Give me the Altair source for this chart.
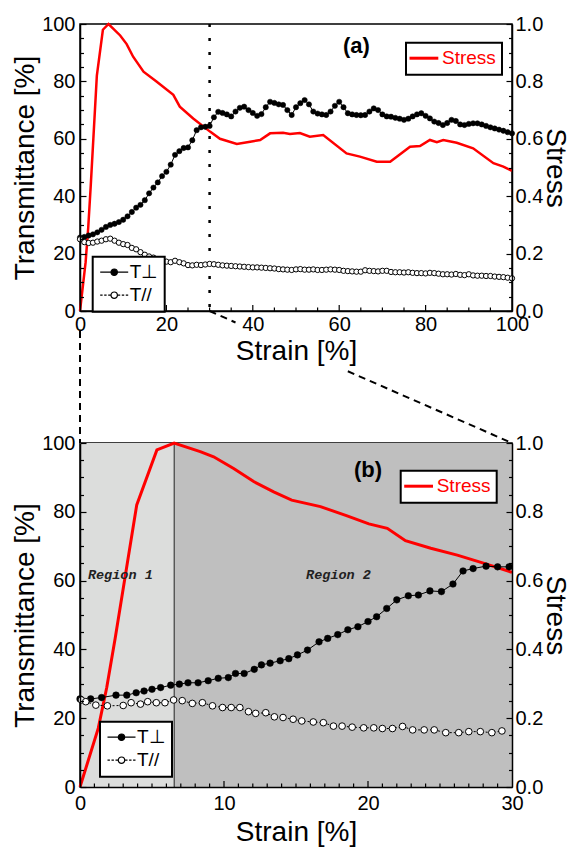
import altair as alt
import pandas as pd

FONT = "Liberation Sans"

# ---------------- panel (a): 0-100 % strain ----------------
strain_a = list(range(101))
t_perp_a = [25.6, 25.8, 26.3, 26.7, 27.4, 28.3, 29.3, 30.0, 30.4, 31.0,
            31.8, 33.0, 34.5, 36.0, 37.0, 38.6, 41.0, 43.0, 44.8, 47.0,
            48.5, 51.0, 54.4, 55.7, 56.8, 57.0, 59.5, 63.0, 64.0, 64.2,
            64.5, 67.5, 69.4, 69.0, 68.5, 67.8, 69.5, 70.8, 71.2, 70.0,
            69.0, 68.0, 68.6, 71.0, 72.9, 72.5, 72.0, 71.8, 70.0, 68.3,
            71.0, 72.4, 73.5, 72.0, 69.5, 68.8, 68.5, 68.3, 69.5, 71.5,
            72.9, 71.0, 68.9, 68.5, 68.3, 68.2, 68.3, 69.5, 70.6, 70.0,
            68.5, 67.8, 67.7, 67.3, 67.0, 66.6, 67.0, 67.8, 68.5, 68.9,
            68.0, 67.1, 66.0, 65.5, 64.8, 65.5, 66.6, 66.2, 65.0, 64.8,
            65.2, 65.4, 65.4, 65.0, 64.5, 64.0, 63.6, 63.2, 62.8, 62.3, 61.9]
t_par_a = [25.0, 24.0, 23.7, 23.8, 24.2, 24.5, 25.0, 25.2, 24.5, 23.8,
           23.3, 23.0, 22.0, 21.5, 20.5, 19.6, 19.0, 18.6, 17.9, 17.4,
           17.2, 17.0, 17.5, 17.0, 16.6, 16.0, 15.9, 16.1, 16.0, 16.2,
           16.4, 16.3, 16.1, 15.9, 15.8, 15.7, 15.6, 15.5, 15.4, 15.3,
           15.2, 15.2, 15.1, 15.0, 14.9, 14.8, 14.6, 14.5, 14.4, 14.3,
           14.5, 14.6, 14.4, 14.4, 14.5, 14.3, 14.3, 14.4, 14.5, 14.4,
           14.3, 14.0, 13.9, 13.8, 13.7, 13.7, 14.2, 14.0, 13.9, 13.8,
           14.0, 14.0, 13.6, 13.5, 13.5, 13.4, 13.5, 13.3, 13.2, 13.2,
           13.1, 13.3, 13.2, 13.0, 12.8, 12.8, 12.7, 12.9, 12.6, 12.5,
           12.8, 12.4, 12.3, 12.3, 12.2, 12.2, 12.0, 11.9, 11.8, 11.6, 11.4]
stress_a_strain = [0, 1.3, 1.9, 2.5, 3.9, 5.3, 6.6, 9.3, 10.8, 12.3, 14.7, 17.7,
                   21.6, 23.1, 26.2, 30.1, 32.4, 36.3, 39.4, 41.7, 44.0, 47.0,
                   48.6, 50.9, 53.2, 56.3, 61.7, 64.8, 68.7, 71.8, 76.4, 78.7,
                   81.0, 82.6, 84.1, 87.2, 91.0, 95.7, 98.0, 100]
stress_a = [0, 0.17, 0.29, 0.44, 0.82, 0.98, 1.0, 0.96, 0.93, 0.886, 0.834, 0.80,
            0.753, 0.712, 0.671, 0.625, 0.60, 0.582, 0.59, 0.596, 0.619, 0.621,
            0.617, 0.62, 0.607, 0.613, 0.549, 0.538, 0.52, 0.52, 0.572, 0.575,
            0.596, 0.588, 0.596, 0.586, 0.567, 0.515, 0.503, 0.488]

# ---------------- panel (b): 0-30 % strain ----------------
t_perp_b_strain = [0, 0.74, 1.5, 2.5, 3.25, 3.9, 4.45, 5.0, 5.6, 6.3, 6.9, 7.5,
                   8.2, 8.9, 9.6, 10.3, 10.8, 11.4, 12.1, 12.6, 13.2, 13.9, 14.5,
                   15.1, 15.8, 16.6, 17.2, 17.9, 18.6, 19.3, 20.0, 20.6, 21.3,
                   22.0, 22.8, 23.5, 24.3, 25.1, 25.9, 26.6, 27.3, 28.2, 29.0, 29.8]
t_perp_b = [25.6, 25.6, 26.0, 26.7, 26.7, 27.4, 27.9, 28.4, 28.9, 29.6, 29.9, 30.3,
            30.3, 30.9, 31.6, 31.8, 33.0, 33.0, 34.2, 35.5, 36.0, 36.7, 37.3,
            38.4, 39.8, 42.2, 43.2, 44.3, 45.7, 46.6, 48.1, 49.5, 51.9,
            54.4, 55.6, 55.8, 57.0, 56.8, 59.0, 62.8, 63.5, 64.2, 64.0, 64.0]
t_par_b_strain = [0.1, 0.4, 1.1, 1.9, 3.0, 3.55, 4.2, 4.7, 5.3, 5.9, 6.5, 7.1,
                  7.8, 8.5, 9.2, 9.9, 10.5, 11.1, 11.7, 12.2, 12.9, 13.5, 14.1,
                  14.8, 15.4, 16.2, 16.9, 17.6, 18.2, 18.9, 19.7, 20.4, 21.0,
                  21.7, 22.4, 23.1, 23.9, 24.6, 25.4, 26.3, 27.0, 27.8, 28.6, 29.3]
t_par_b = [25.3, 24.8, 23.8, 23.6, 23.7, 24.5, 24.1, 24.8, 24.5, 24.5, 25.3, 25.1,
           24.3, 24.5, 23.6, 23.1, 23.1, 23.1, 21.9, 21.4, 21.6, 20.4, 20.2,
           19.7, 19.2, 18.9, 18.7, 17.7, 17.7, 17.4, 17.2, 17.2, 17.0,
           17.0, 17.6, 16.6, 16.6, 16.6, 15.8, 15.8, 16.1, 16.1, 15.8, 16.3]
stress_b_strain = [0, 1.27, 1.86, 2.44, 3.94, 5.34, 6.54, 8.35, 9.28, 10.67, 12.06,
                   13.45, 14.7, 16.7, 18.55, 20.06, 21.34, 22.6, 24.36, 26.2, 28.07, 30]
stress_b = [0, 0.171, 0.29, 0.432, 0.82, 0.98, 1.0, 0.975, 0.96, 0.926, 0.888,
            0.858, 0.834, 0.815, 0.788, 0.765, 0.752, 0.716, 0.694, 0.674, 0.65, 0.624]

# ---------------- annotations ----------------
series_names = ["T\u22a5", "T//"]
region_edges = [0, 6.54, 30]
region_names = ["Region 1", "Region 2"]
region_colors = ["#dcdddc", "#bfbfbf"]
region_label_x = [0.55, 15.7]
region_label_y = [61.6, 61.6]
zoom_end = 30
label_a = ["(a)"]; label_a_x = [64.0]; label_a_y = [92.3]
label_b = ["(b)"]; label_b_x = [20.0]; label_b_y = [92.2]
# zoom connectors, in panel (a) data coordinates (they run below its x axis)
conn_x = [0, 0, 30, 36, 62, 100]
conn_y = [-7, -46, 0, -4, -21, -46]
conn_seg = ["l", "l", "a", "a", "b", "b"]
# axis tick positions
ticks_a_x = list(range(0, 101, 5))
ticks_b_x = list(range(0, 31))
ticks_t = list(range(0, 101, 5))
ticks_s = [round(i * 0.05, 2) for i in range(21)]

W = 432
H_A = 287
H_B = 344
GAP = 132
MAJOR_LEN = 6
MINOR_LEN = 3.5


def make_axis(values, label_expr, major_test, orient, title, title_pad,
              label_pad=4, grid=True):
    kw = dict(
        values=values, labelExpr=label_expr, orient=orient, title=title,
        ticks=False, tickSize=0, grid=grid,
        domainColor="black", domainWidth=1.5,
        labelFont=FONT, labelFontSize=20, labelColor="black",
        labelPadding=label_pad, labelFlush=False, labelOverlap=False,
        titleFont=FONT, titleFontSize=28, titleFontWeight="normal",
        titleColor="black", titlePadding=title_pad, zindex=1)
    if grid:
        kw.update(gridColor="black", gridWidth=1.2, gridOpacity=1,
                  gridDash={"condition": {"test": major_test, "value": [MAJOR_LEN, 3000]},
                            "value": [MINOR_LEN, 3000]})
    return alt.Axis(**kw)


stress_label = "abs(datum.value*5-round(datum.value*5))<1e-6 ? format(datum.value,'.1f') : ''"
stress_major = "abs(datum.value*5-round(datum.value*5))<1e-6"

PATH_PERP = "M-2,0L5,0M2.3,0A0.8,0.8,0,1,1,0.7,0A0.8,0.8,0,1,1,2.3,0Z"
PATH_PAR = ("M-2,0L-1.4,0M-1,0L-0.4,0M0,0L0.6,0M2.4,0L3,0M3.4,0L4,0M4.4,0L5,0"
            "M2.3,0A0.8,0.8,0,1,1,0.7,0A0.8,0.8,0,1,1,2.3,0Z")


def t_legend(lx, ly):
    return alt.Legend(title=None, orient="none", legendX=lx, legendY=ly,
                      symbolSize=64, symbolStrokeWidth=1.2,
                      symbolOpacity=1, labelOffset=12, rowPadding=3,
                      labelFontSize=19, labelFont=FONT, labelColor="black")


def s_legend(lx, ly):
    return alt.Legend(title=None, orient="none", legendX=lx, legendY=ly,
                      symbolType="M-3,0L4.2,0", symbolSize=64, symbolStrokeWidth=3,
                      labelOffset=11, labelFontSize=19, labelFont=FONT,
                      labelColor="#ff0000")


def build_panel(xmax, height, x_axis, y_axis, s_axis, x_tick_vals, x_major_mod,
                perp_x, perp_y, par_x, par_y, s_x, s_y, pt_size, s_width,
                tleg, sleg, extra_back, extra_front):
    def X():
        return alt.X("strain:Q", scale=alt.Scale(domain=[0, xmax], nice=False), axis=x_axis)

    def Y():
        return alt.Y("value:Q", scale=alt.Scale(domain=[0, 100], nice=False), axis=y_axis)

    df_perp = pd.DataFrame({"strain": perp_x, "value": perp_y})
    df_par = pd.DataFrame({"strain": par_x, "value": par_y})
    df_s = pd.DataFrame({"strain": s_x, "stress": s_y, "series": "Stress"})
    df_leg = pd.DataFrame({"strain": [perp_x[0], par_x[0]],
                           "value": [perp_y[0], par_y[0]], "series": series_names})
    inner = [v for v in x_tick_vals if 0 < v < xmax]
    df_xt = pd.DataFrame({"strain": inner, "value": [0] * len(inner),
                          "value_end": [(MAJOR_LEN if v % x_major_mod == 0 else MINOR_LEN)
                                        / height * 100 for v in inner]})

    stress = alt.Chart(df_s).mark_line(strokeWidth=s_width).encode(
        x=X(),
        y=alt.Y("stress:Q", scale=alt.Scale(domain=[0, 1], nice=False), axis=s_axis),
        color=alt.Color("series:N", scale=alt.Scale(domain=["Stress"], range=["#ff0000"]),
                        legend=sleg))

    xticks = alt.Chart(df_xt).mark_rule(color="black", strokeWidth=1.2).encode(
        x=X(), y=Y(), y2="value_end:Q")
    perp_line = alt.Chart(df_perp).mark_line(color="black", strokeWidth=1).encode(x=X(), y=Y())
    perp_pts = alt.Chart(df_perp).mark_point(filled=True, fill="black", stroke="black",
                                             strokeWidth=0.5, size=pt_size, opacity=1).encode(x=X(), y=Y())
    par_line = alt.Chart(df_par).mark_line(color="black", strokeWidth=1,
                                           strokeDash=[2, 2]).encode(x=X(), y=Y())
    par_pts = alt.Chart(df_par).mark_point(filled=True, fill="white", stroke="black",
                                           strokeWidth=1, size=pt_size, opacity=1).encode(x=X(), y=Y())
    leg_layer = alt.Chart(df_leg).mark_point(filled=True, opacity=0, size=64,
                                             strokeWidth=1.2).encode(
        x=X(), y=Y(),
        shape=alt.Shape("series:N", scale=alt.Scale(domain=series_names,
                                                    range=[PATH_PERP, PATH_PAR]), legend=tleg),
        fill=alt.Fill("series:N", scale=alt.Scale(domain=series_names,
                                                  range=["black", "white"]), legend=tleg),
        stroke=alt.Stroke("series:N", scale=alt.Scale(domain=series_names,
                                                      range=["black", "black"]), legend=tleg))

    back = [f(X, Y) for f in extra_back]
    front = [f(X, Y) for f in extra_front]
    t_group = alt.layer(perp_line, perp_pts, par_line, par_pts, leg_layer, xticks, *front)
    layers = back + [stress, t_group]
    return alt.layer(*layers).resolve_scale(y="independent").properties(width=W, height=height)


# ----- panel (a) -----
ax_xa = make_axis(ticks_a_x, "datum.value % 20 === 0 ? datum.label : ''",
                  "true", "bottom", "Strain [%]", 3, label_pad=3, grid=False)
ax_ya = make_axis(ticks_t, "datum.value % 20 === 0 ? datum.label : ''",
                  "datum.value % 20 === 0", "left", "Transmittance [%]", 2, label_pad=5)
ax_sa = make_axis(ticks_s, stress_label, stress_major, "right", "Stress", -2, label_pad=3)


def a_marker(X, Y):
    return alt.Chart(pd.DataFrame({"strain": [zoom_end]})).mark_rule(
        color="black", strokeWidth=2.5, strokeDash=[3, 11]).encode(x=X())


def a_conn(X, Y):
    df = pd.DataFrame({"strain": conn_x, "value": conn_y, "seg": conn_seg})
    return alt.Chart(df).mark_line(color="black", strokeWidth=2, strokeDash=[7, 5],
                                   clip=False).encode(x=X(), y=Y(), detail="seg:N")


def a_text(X, Y):
    df = pd.DataFrame({"strain": label_a_x, "value": label_a_y, "label": label_a})
    return alt.Chart(df).mark_text(font=FONT, fontSize=22, fontWeight="bold",
                                   color="black").encode(x=X(), y=Y(), text="label:N")


top = build_panel(100, H_A, ax_xa, ax_ya, ax_sa, ticks_a_x, 20,
                  strain_a, t_perp_a, strain_a, t_par_a,
                  stress_a_strain, stress_a, 28, 2.5, t_legend(12.7, 232.7),
                  s_legend(326, 18.7), [a_marker], [a_conn, a_text])

# ----- panel (b) -----
ax_xb = make_axis(ticks_b_x, "datum.value % 10 === 0 ? datum.label : ''",
                  "true", "bottom", "Strain [%]", 5, label_pad=6, grid=False)
ax_yb = make_axis(ticks_t, "datum.value % 20 === 0 ? datum.label : ''",
                  "datum.value % 20 === 0", "left", "Transmittance [%]", 2, label_pad=5)
ax_sb = make_axis(ticks_s, stress_label, stress_major, "right", "Stress", -2, label_pad=3)


def b_regions(X, Y):
    parts = []
    for i in range(len(region_names)):
        df = pd.DataFrame({"strain": [region_edges[i]], "strain_end": [region_edges[i + 1]]})
        parts.append(alt.Chart(df).mark_rect(color=region_colors[i], opacity=1).encode(
            x=X(), x2="strain_end:Q"))
    edge = alt.Chart(pd.DataFrame({"strain": [region_edges[1]]})).mark_rule(
        color="#222222", strokeWidth=1).encode(x=X())
    return alt.layer(*parts, edge)


def b_texts(X, Y):
    df = pd.DataFrame({"strain": region_label_x, "value": region_label_y, "label": region_names})
    reg = alt.Chart(df).mark_text(font="Liberation Mono", fontStyle="italic", fontSize=13.5,
                                  fontWeight="bold", align="left", color="#222222").encode(
        x=X(), y=Y(), text="label:N")
    dfb = pd.DataFrame({"strain": label_b_x, "value": label_b_y, "label": label_b})
    lab = alt.Chart(dfb).mark_text(font=FONT, fontSize=22, fontWeight="bold",
                                   color="black").encode(x=X(), y=Y(), text="label:N")
    return alt.layer(reg, lab)


bottom = build_panel(30, H_B, ax_xb, ax_yb, ax_sb, ticks_b_x, 10,
                     t_perp_b_strain, t_perp_b, t_par_b_strain, t_par_b,
                     stress_b_strain, stress_b, 44, 3,
                     t_legend(20, 278.7), s_legend(320.7, 27.7), [b_regions], [b_texts])

chart = alt.vconcat(top, bottom, spacing=GAP, bounds="flush").resolve_scale(
    color="independent", stroke="independent", fill="independent", shape="independent"
).resolve_legend(
    color="independent", stroke="independent", fill="independent", shape="independent"
).properties(
    padding={"left": 2, "right": 3, "top": 5, "bottom": 0}
).configure_view(stroke="black", strokeWidth=1.5).configure_legend(
    strokeColor="black", strokeWidth=2, fillColor="white", padding=6
)

chart.save("out.html", embed_options={"renderer": "svg", "actions": False})
